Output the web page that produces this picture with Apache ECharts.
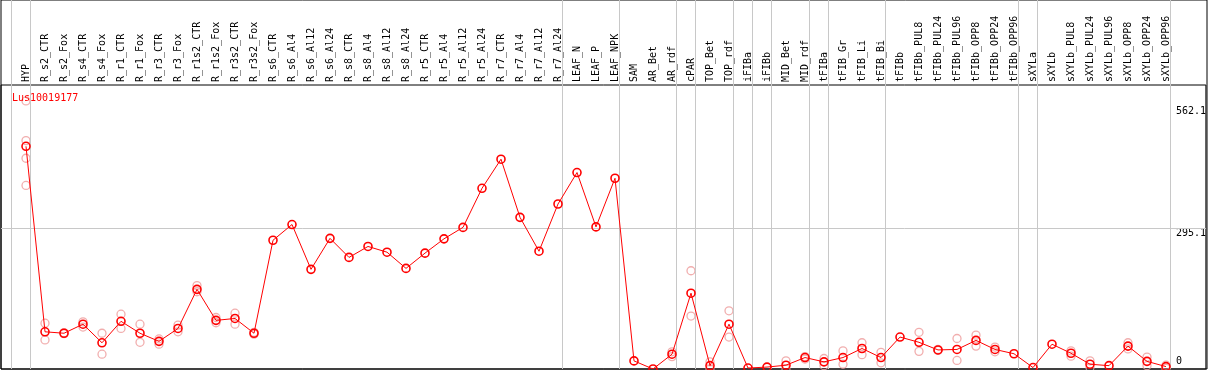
<!DOCTYPE html>
<html>
<head>
<meta charset="utf-8">
<script src="https://cdn.jsdelivr.net/npm/echarts@6/dist/echarts.min.js"></script>
<style>
html,body{margin:0;padding:0;background:#fff;}
#chart{width:1209px;height:370px;}
</style>
</head>
<body>
<div id="chart"></div>
<script>
const geneId = 'Lus10019177';
const categories = ['HYP','R_s2_CTR','R_s2_Fox','R_s4_CTR','R_s4_Fox','R_r1_CTR','R_r1_Fox','R_r3_CTR','R_r3_Fox','R_r1s2_CTR','R_r1s2_Fox','R_r3s2_CTR','R_r3s2_Fox','R_s6_CTR','R_s6_Al4','R_s6_Al12','R_s6_Al24','R_s8_CTR','R_s8_Al4','R_s8_Al12','R_s8_Al24','R_r5_CTR','R_r5_Al4','R_r5_Al12','R_r5_Al24','R_r7_CTR','R_r7_Al4','R_r7_Al12','R_r7_Al24','LEAF_N','LEAF_P','LEAF_NPK','SAM','AR_Bet','AR_rdf','cPAR','TOP_Bet','TOP_rdf','iFIBa','iFIBb','MID_Bet','MID_rdf','tFIBa','tFIB_Gr','tFIB_Li','tFIB_Bi','tFIBb','tFIBb_PUL8','tFIBb_PUL24','tFIBb_PUL96','tFIBb_OPP8','tFIBb_OPP24','tFIBb_OPP96','sXYLa','sXYLb','sXYLb_PUL8','sXYLb_PUL24','sXYLb_PUL96','sXYLb_OPP8','sXYLb_OPP24','sXYLb_OPP96'];
const meanValues = [467,78,75,94,55,100,75,58,85,167,102,106,75,270,303,209,274,234,257,245,211,243,273,297,379,440,318,247,346,412,298,400,17,0,31,159,7,94,2,4,8,24,15,24,43,24,67,56,40,41,60,41,32,3,52,33,10,7,48,16,5];
const rep1 = [562.1,96,76,99,75,115,94,63,92,175,108,117,77,null,null,null,null,null,null,null,null,null,null,null,null,null,null,null,null,null,null,null,null,null,36,206,15,122,null,null,17,26,22,38,55,35,null,77,41,64,71,46,null,null,null,38,17,null,55,25,8];
const rep2 = [385,61,74,88,31,85,56,52,78,162,97,94,73,null,null,null,null,null,null,null,null,null,null,null,null,null,null,null,null,null,null,null,null,null,26,111,0,67,null,null,0,21,7,10,30,13,null,37,39,18,48,36,null,null,null,27,3,null,42,7,1.5];
const rep3 = [479];
const rep4 = [442];
const yTickLabels = [0, 295.1, 562.1];
const yGridLines = [295.1];
const yMax = 595.6;
const groupEnds = [-1,0,28,31,34,35,37,38,39,41,42,45,52,53,60];

const band = 19;                 // px per category
const plotLeft = 1, plotRight = 2;
const catLeft = 16.5;
const catRight = 1209 - (catLeft + categories.length * band);
const fullW = 1209 - plotLeft - plotRight;
const xMin = -((catLeft + band / 2) - plotLeft) / band;
const xMax = xMin + fullW / band;

const font = 'DejaVu Sans Mono';

const repData = [];
[rep1, rep2, rep3, rep4].forEach(arr => arr.forEach((v, i) => { if (v !== null && v !== undefined) repData.push([i, v]); }));

const chart = echarts.init(document.getElementById('chart'), null, {renderer: 'canvas'});
chart.setOption({
  animation: false,
  backgroundColor: '#fff',
  title: {
    text: geneId, left: 7, top: 88,
    textStyle: {color: '#ff0000', fontSize: 10, fontWeight: 'normal', fontFamily: font}
  },
  grid: [
    {left: catLeft, right: catRight, top: 85, bottom: 1, show: false},
    {left: plotLeft, right: plotRight, top: 0, bottom: 1, show: true, borderColor: '#000', borderWidth: 1, backgroundColor: 'transparent'},
    {left: plotLeft, right: plotRight, top: 85, bottom: 1, show: true, borderColor: '#000', borderWidth: 1, backgroundColor: 'transparent'}
  ],
  xAxis: [
    {type: 'category', gridIndex: 0, position: 'top', data: categories, boundaryGap: true,
     axisLine: {show: false}, axisTick: {show: false}, splitLine: {show: false},
     axisLabel: {rotate: 90, interval: 0, margin: 3, color: '#000', fontSize: 10, fontFamily: font}},
    {type: 'value', gridIndex: 1, min: xMin, max: xMax, show: false},
    {type: 'value', gridIndex: 2, min: 0, max: 1, show: false}
  ],
  yAxis: [
    {type: 'value', gridIndex: 0, min: 0, max: yMax, show: false},
    {type: 'value', gridIndex: 1, min: 0, max: 1, show: false},
    {type: 'value', gridIndex: 2, min: 0, max: yMax, position: 'right',
     axisLine: {show: false}, axisTick: {show: false}, splitLine: {show: false},
     axisLabel: {inside: true, customValues: [yTickLabels[1]], align: 'left', verticalAlign: 'top', margin: 30, color: '#000', fontSize: 10, fontFamily: font}},
    {type: 'value', gridIndex: 2, min: 0, max: yMax, position: 'right',
     axisLine: {show: false}, axisTick: {show: false}, splitLine: {show: false},
     axisLabel: {inside: true, customValues: [yTickLabels[2]], align: 'left', verticalAlign: 'top', padding: [5, 0, 0, 0], margin: 30, color: '#000', fontSize: 10, fontFamily: font}},
    {type: 'value', gridIndex: 2, min: 0, max: yMax, position: 'right',
     axisLine: {show: false}, axisTick: {show: false}, splitLine: {show: false},
     axisLabel: {inside: true, customValues: [yTickLabels[0]], align: 'left', verticalAlign: 'bottom', padding: [0, 0, 3, 0], margin: 30, color: '#000', fontSize: 10, fontFamily: font}}
  ],
  series: [
    {type: 'line', xAxisIndex: 1, yAxisIndex: 1, data: [], z: 1, silent: true,
     markLine: {silent: true, symbol: 'none', label: {show: false},
       lineStyle: {color: '#c8c8c8', width: 1, type: 'solid'},
       data: groupEnds.map(k => ({xAxis: k + 4.5 / band}))}},
    {type: 'line', xAxisIndex: 2, yAxisIndex: 2, data: [], z: 1, silent: true,
     markLine: {silent: true, symbol: 'none', label: {show: false},
       lineStyle: {color: '#c8c8c8', width: 1, type: 'solid'},
       data: yGridLines.map(v => ({yAxis: v}))}},
    {type: 'scatter', xAxisIndex: 0, yAxisIndex: 0, data: repData, z: 3,
     symbol: 'circle', symbolSize: 8,
     itemStyle: {color: 'rgba(0,0,0,0)', borderColor: '#ee9a9a', borderWidth: 1.3}},
    {type: 'line', xAxisIndex: 0, yAxisIndex: 0, data: meanValues, z: 5,
     symbol: 'circle', symbolSize: 8, showAllSymbol: true,
     lineStyle: {color: '#ff0000', width: 1},
     itemStyle: {color: 'rgba(0,0,0,0)', borderColor: '#ff0000', borderWidth: 1.6}}
  ]
});
</script>
</body>
</html>
